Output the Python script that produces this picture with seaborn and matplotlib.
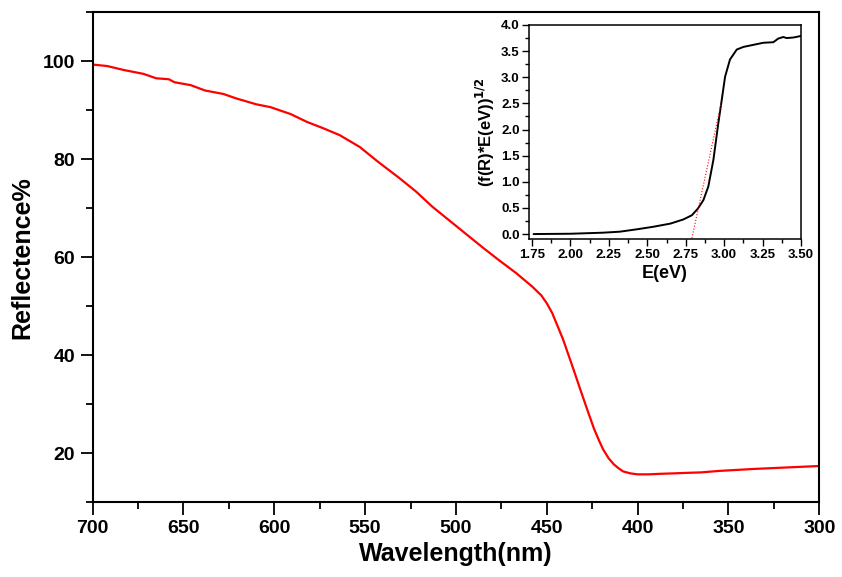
import numpy as np
import pandas as pd
import matplotlib
matplotlib.use("Agg")
import matplotlib.pyplot as plt
from matplotlib.ticker import MultipleLocator, FormatStrFormatter
import seaborn as sns

# reflectance spectrum
wavelength = [700, 692, 683, 672, 665, 658, 655, 646, 638, 628, 621, 610, 602, 591,
              582, 573, 564, 553, 543, 531, 522, 513, 503, 494, 485, 476, 467, 458,
              453, 450, 447, 445, 441, 438, 435, 432, 428, 424, 421, 419, 416, 413,
              410, 408, 404, 400, 394, 388, 380, 373, 365, 355, 336, 318, 300]
reflectance = [99.3, 99.0, 98.2, 97.4, 96.5, 96.3, 95.7, 95.1, 94.0, 93.3, 92.4, 91.2,
               90.6, 89.2, 87.6, 86.3, 84.9, 82.5, 79.5, 76.1, 73.4, 70.3, 67.3, 64.6,
               61.9, 59.3, 56.8, 54.0, 52.2, 50.6, 48.6, 46.8, 43.2, 40.0, 36.8, 33.5,
               29.2, 25.0, 22.4, 20.8, 19.0, 17.7, 16.8, 16.3, 15.9, 15.7, 15.7, 15.8,
               15.9, 16.0, 16.1, 16.4, 16.8, 17.1, 17.4]

# Tauc plot for the inset
energy = [1.76, 2.00, 2.21, 2.32, 2.43, 2.54, 2.65, 2.735, 2.79, 2.83, 2.865, 2.897,
          2.93, 2.962, 2.984, 3.006, 3.038, 3.082, 3.125, 3.19, 3.255, 3.32, 3.352,
          3.385, 3.407, 3.45, 3.50]
tauc = [0.0, 0.006, 0.026, 0.045, 0.09, 0.14, 0.20, 0.28, 0.36, 0.49, 0.65, 0.91,
        1.42, 2.12, 2.56, 3.01, 3.34, 3.53, 3.58, 3.62, 3.66, 3.67, 3.74, 3.77,
        3.75, 3.76, 3.79]
fit_E = [2.79, 2.98]
fit_y = [-0.08, 2.50]

sns.set_style("ticks")
plt.rcParams['font.family'] = ['Liberation Sans', 'DejaVu Sans']
plt.rcParams['font.weight'] = 'bold'
for k in ['text.color', 'axes.labelcolor', 'xtick.color', 'ytick.color', 'axes.edgecolor']:
    plt.rcParams[k] = 'black'

df = pd.DataFrame({'wl': wavelength, 'R': reflectance})
di = pd.DataFrame({'E': energy, 'F': tauc})

fig = plt.figure(figsize=(8.42, 5.77), dpi=100)
ax = fig.add_axes([0.110, 0.1295, 0.863, 0.8495])
sns.lineplot(data=df, x='wl', y='R', color='red', linewidth=1.6, ax=ax, sort=False)
ax.set_xlim(700, 300)
ax.set_ylim(10, 110)
ax.xaxis.set_major_locator(MultipleLocator(50))
ax.xaxis.set_minor_locator(MultipleLocator(25))
ax.yaxis.set_major_locator(MultipleLocator(20))
ax.yaxis.set_minor_locator(MultipleLocator(10))
ax.tick_params(which='major', direction='out', length=9, width=1.3, labelsize=14)
ax.tick_params(which='minor', direction='out', length=5, width=1.3)
for s in ax.spines.values():
    s.set_linewidth(1.5)
    s.set_visible(True)
ax.set_xlabel('Wavelength(nm)', fontsize=18, fontweight='bold', labelpad=4)
ax.set_ylabel('Reflectence%', fontsize=18, fontweight='bold', labelpad=6)
for lab in ax.get_xticklabels() + ax.get_yticklabels():
    lab.set_fontweight('bold')

# inset
axi = fig.add_axes([0.6286, 0.5853, 0.3227, 0.3714])
sns.lineplot(data=di, x='E', y='F', color='black', linewidth=1.4, ax=axi, sort=False)
axi.plot(fit_E, fit_y, color='red', linewidth=0.8, linestyle=':')
axi.set_xlim(1.732, 3.5)
axi.set_ylim(-0.1, 4.0)
axi.xaxis.set_major_locator(MultipleLocator(0.25))
axi.xaxis.set_minor_locator(MultipleLocator(0.125))
axi.yaxis.set_major_locator(MultipleLocator(0.5))
axi.yaxis.set_minor_locator(MultipleLocator(0.25))
axi.xaxis.set_major_formatter(FormatStrFormatter('%.2f'))
axi.yaxis.set_major_formatter(FormatStrFormatter('%.1f'))
axi.tick_params(which='major', direction='out', length=5, width=1, labelsize=9.5, pad=2)
axi.tick_params(which='minor', direction='out', length=3, width=1)
for s in axi.spines.values():
    s.set_linewidth(1.1)
    s.set_visible(True)
axi.set_xlabel('E(eV)', fontsize=13, fontweight='bold', labelpad=3)
axi.set_ylabel(r'(f(R)*E(eV))$^{\mathbf{1/2}}$', fontsize=12, fontweight='bold', labelpad=3)
for lab in axi.get_xticklabels() + axi.get_yticklabels():
    lab.set_fontweight('bold')

fig.savefig('out.png', dpi=100)
